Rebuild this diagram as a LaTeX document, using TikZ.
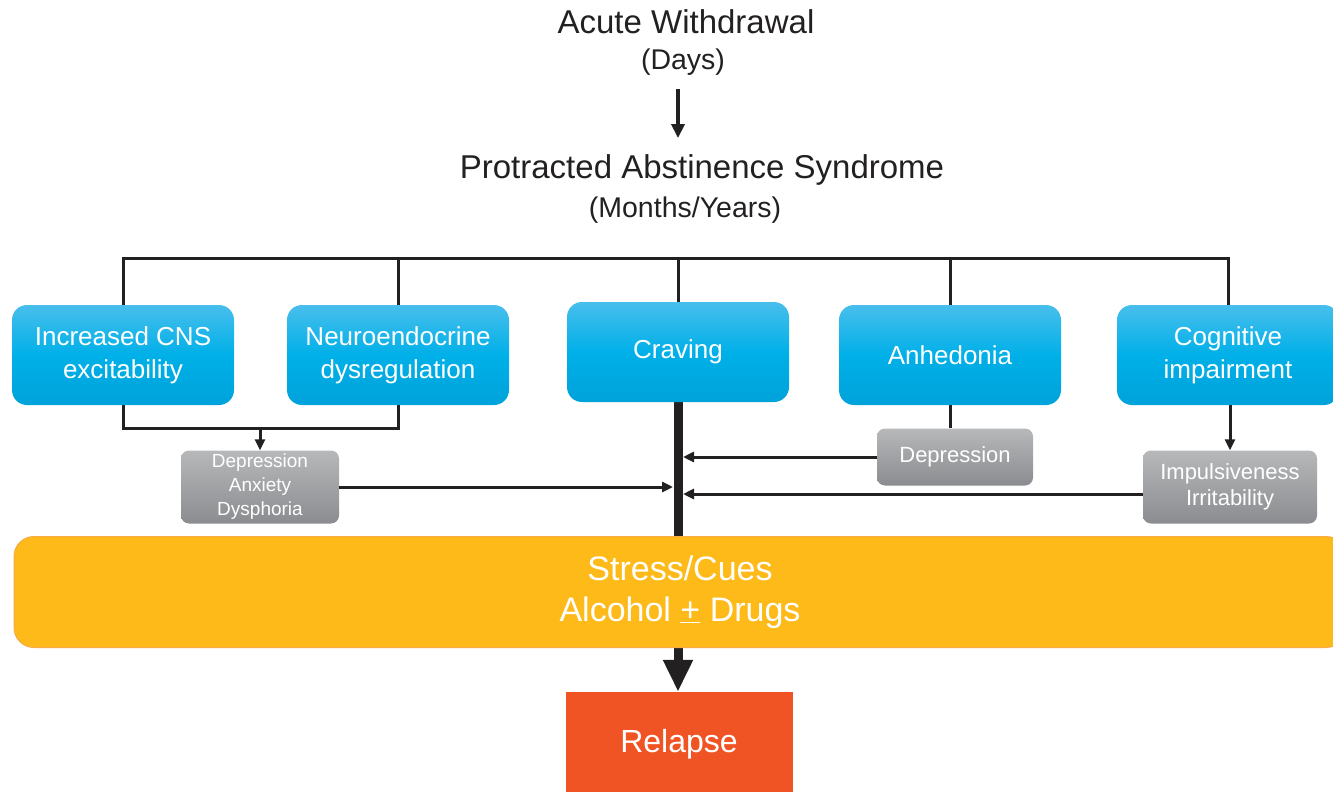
\documentclass[tikz,border=0pt]{standalone}
\usepackage{fontspec}
\setmainfont{Liberation Sans}
\usetikzlibrary{arrows.meta, positioning, backgrounds}
\definecolor{cyantop}{RGB}{72, 190, 236}
\definecolor{cyanmid}{RGB}{0, 176, 232}
\definecolor{cyanbot}{RGB}{0, 162, 218}
\definecolor{greytop}{RGB}{182, 184, 186}
\definecolor{greybot}{RGB}{138, 140, 143}
\definecolor{cuesyellow}{RGB}{253, 186, 24}
\definecolor{cuesedge}{RGB}{247, 170, 70}
\definecolor{relapsered}{RGB}{241, 84, 36}
\definecolor{inkgray}{RGB}{35, 32, 33}

\begin{document}
\begin{tikzpicture}[
    x=1pt, y=-1pt,
    symptom/.style={rectangle, rounded corners=15pt, top color=cyantop, bottom color=cyanbot, middle color=cyanmid, minimum width=222pt, minimum height=100pt, align=center, text=white, font=\fontsize{26}{33}\selectfont},
    effect/.style={rectangle, rounded corners=8pt, top color=greytop, bottom color=greybot, minimum width=158pt, minimum height=73pt, align=center, text=white},
    cues/.style={rectangle, rounded corners=20pt, fill=cuesyellow, draw=cuesedge, line width=1pt, minimum width=1332pt, minimum height=111pt, align=center, text=white, font=\fontsize{34}{41}\selectfont},
    outcome/.style={rectangle, fill=relapsered, minimum width=227pt, minimum height=104pt, text=white, font=\fontsize{32}{38}\selectfont},
    phase/.style={text=inkgray, font=\fontsize{33}{38}\selectfont},
    period/.style={text=inkgray, font=\fontsize{28.5}{34}\selectfont},
    link/.style={draw=inkgray, line width=3pt},
    arrow/.style={link, -{Triangle[length=11pt, width=10pt]}},
    bigarrow/.style={draw=inkgray, line width=9pt, -{Triangle[length=32pt, width=28pt]}}
]
\useasboundingbox (0,0) rectangle (1333,792);

% Phases
\node[phase] (acute) at (686,22) {Acute Withdrawal};
\node[period] (days) at (683,62) {(Days)};
\node[phase] (protracted) at (702,170) {Protracted Abstinence Syndrome};
\node[period] (months) at (685,210) {(Months/Years)};

% Symptoms
\node[symptom] (cns) at (123,355) {Increased CNS\\excitability};
\node[symptom] (neuro) at (398,355) {Neuroendocrine\\dysregulation};
\node[symptom] (craving) at (678,352) {Craving};
\node[symptom] (anhedonia) at (950,355) {Anhedonia};
\node[symptom] (cognitive) at (1228,355) {Cognitive\\impairment};

% Consequences
\node[effect, font=\fontsize{19}{24}\selectfont] (distress) at (260,487) {Depression\\Anxiety\\Dysphoria};
\node[effect, minimum width=156pt, minimum height=57pt, font=\fontsize{22}{26}\selectfont] (depression) at (955,457) {Depression};
\node[effect, minimum width=174pt, font=\fontsize{22}{26}\selectfont] (impulsive) at (1230,487) {Impulsiveness\\Irritability};

% Triggers and outcome
\node[cues] (stress) at (680,592) {Stress/Cues\\Alcohol \underline{+} Drugs};
\node[outcome] (relapse) at (679,744) {Relapse};

% Connectors
\draw[arrow, line width=3.5pt, -{Triangle[length=14pt, width=13pt]}, shorten <=10pt, shorten >=13pt] (days.south -| craving.north) -- (protracted.north -| craving.north);
\coordinate (bus) at (678,258);
\draw[link] (cns.north) |- (bus) -| (cognitive.north);
\draw[link] (neuro.north) -- (neuro.north |- bus);
\draw[link] (craving.north) -- (bus);
\draw[link] (anhedonia.north) -- (anhedonia.north |- bus);

\draw[link] (cns.south) -- ++(0,23) -| (neuro.south);
\coordinate (merge) at (260,428);
\draw[arrow] (merge) -- (distress.north);
\draw[link] (anhedonia.south) -- (anhedonia.south |- depression.north);
\draw[arrow] (impulsive.north |- cognitive.south) -- (impulsive.north);

\draw[arrow, shorten >=5pt] (distress.east) -- (distress.east -| craving.south);
\draw[arrow, shorten >=5pt] (depression.west) -- (depression.west -| craving.south);
\draw[arrow, shorten >=5pt] ([yshift=-7pt]impulsive.west) -- ([yshift=-7pt]impulsive.west -| craving.south);

\begin{scope}[on background layer]
\draw[bigarrow] (craving.south) -- (craving.south |- relapse.north);
\end{scope}
\end{tikzpicture}
\end{document}
